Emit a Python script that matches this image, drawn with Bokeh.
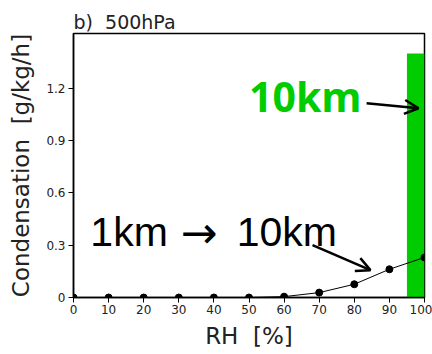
from bokeh.plotting import figure
from bokeh.models import Range1d, FixedTicker, Arrow, OpenHead, Label
from bokeh.embed import file_html
from bokeh.resources import INLINE

rh = [0, 10, 20, 30, 40, 50, 60, 70, 80, 90, 100]
cond_1km_10km = [0, 0, 0, 0, 0, 0, 0.005, 0.028, 0.076, 0.162, 0.23]
bar_left = [95]
bar_right = [100]
bar_top = [1.4]
x_ticks = [0, 10, 20, 30, 40, 50, 60, 70, 80, 90, 100]
y_ticks = [0, 0.3, 0.6, 0.9, 1.2]
y_tick_labels = {0: "0", 0.3: "0.3", 0.6: "0.6", 0.9: "0.9", 1.2: "1.2"}

# annotation anchors (data units)
label_10km = (50, 1.155)
label_1km = (4.8, 0.375)
label_arrow_char = (30.5, 0.375)
label_10km_black = (46.5, 0.375)
arrow_10km = (83.5, 1.115, 98.3, 1.086)
arrow_1to10 = (68.1, 0.30, 84.6, 0.157)

GREEN = "#00cc00"
FONT = "DejaVu Sans"
NB = "\u00a0"

p = figure(width=432, height=354, output_backend="svg", toolbar_location=None,
           x_range=Range1d(0, 100), y_range=Range1d(0, 1.515),
           min_border_left=73, min_border_right=8, min_border_top=33, min_border_bottom=57)

p.title.text = "b)" + NB + NB + "500hPa"
p.title.text_font = FONT
p.title.text_font_size = "19px"
p.title.text_font_style = "normal"
p.title.text_color = "#222222"
p.title.align = "left"
p.title.offset = 0
p.title.standoff = 2

p.quad(left=bar_left, right=bar_right, bottom=[0], top=bar_top,
       fill_color=GREEN, line_color=None)
p.line(rh, cond_1km_10km, line_color="black", line_width=1)
p.scatter(rh, cond_1km_10km, size=7, fill_color="black", line_color="black")

p.xgrid.visible = False
p.ygrid.visible = False
p.outline_line_color = "black"
p.outline_line_width = 1.5

for ax in (p.xaxis[0], p.yaxis[0]):
    ax.axis_line_color = "black"
    ax.axis_line_width = 1.5
    ax.major_tick_in = 0
    ax.major_tick_out = 5
    ax.minor_tick_line_color = None
    ax.major_tick_line_color = "black"
    ax.major_label_text_font = FONT
    ax.major_label_text_font_size = "12px"
    ax.major_label_text_color = "#222222"
    ax.axis_label_text_font = FONT
    ax.axis_label_text_font_size = "23px"
    ax.axis_label_text_font_style = "normal"
    ax.axis_label_text_color = "#222222"

p.xaxis.ticker = FixedTicker(ticks=x_ticks)
p.yaxis.ticker = FixedTicker(ticks=y_ticks)
p.yaxis.major_label_overrides = y_tick_labels
p.xaxis.axis_label = "RH" + NB + NB + "[%]"
p.yaxis.axis_label = "Condensation" + NB + NB + "[g/kg/h]"
p.xaxis.axis_label_standoff = 6
p.yaxis.axis_label_standoff = 9
p.xaxis.major_label_standoff = 2
p.yaxis.major_label_standoff = 3

p.add_layout(Label(x=label_10km[0], y=label_10km[1], text="10km",
                   text_font="Open Sans", text_font_style="bold",
                   text_font_size="41px", text_color=GREEN,
                   text_baseline="middle", text_align="left"))
p.add_layout(Label(x=label_1km[0], y=label_1km[1], text="1km",
                   text_font="Liberation Sans", text_font_size="41px",
                   text_color="black", text_baseline="middle", text_align="left"))
p.add_layout(Label(x=label_arrow_char[0], y=label_arrow_char[1], text="\u2192",
                   text_font="DejaVu Sans", text_font_size="44px",
                   text_color="black", text_baseline="middle", text_align="left"))
p.add_layout(Label(x=label_10km_black[0], y=label_10km_black[1], text="10km",
                   text_font="Liberation Sans", text_font_size="41px",
                   text_color="black", text_baseline="middle", text_align="left"))

for (x0, y0, x1, y1) in (arrow_10km, arrow_1to10):
    p.add_layout(Arrow(x_start=x0, y_start=y0, x_end=x1, y_end=y1,
                       line_color="black", line_width=2.5,
                       end=OpenHead(size=14, line_color="black", line_width=2.5)))

open("out.html", "w").write(file_html(p, INLINE))
